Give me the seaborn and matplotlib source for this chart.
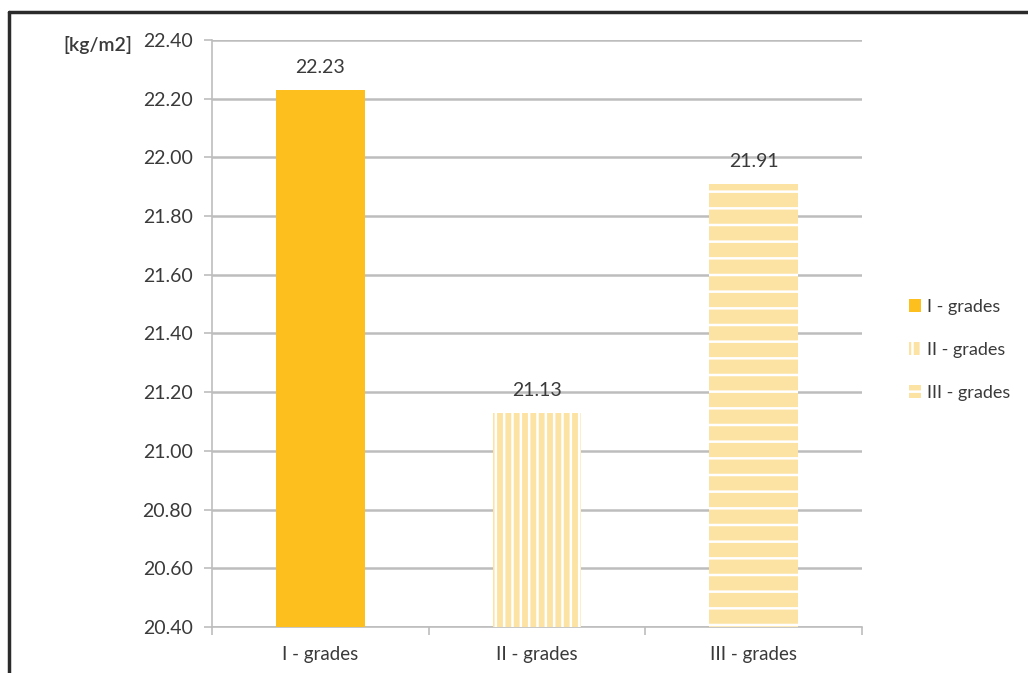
import matplotlib
matplotlib.use("Agg")
import matplotlib.pyplot as plt
from matplotlib.lines import Line2D
import seaborn as sns
import pandas as pd

categories = ["I - grades", "II - grades", "III - grades"]
values = [22.23, 21.13, 21.91]
yticks = [20.40, 20.60, 20.80, 21.00, 21.20, 21.40, 21.60, 21.80, 22.00, 22.20, 22.40]
unit_label = "[kg/m2]"

sns.set_theme(style="white")
plt.rcParams["font.family"] = ["Lato", "DejaVu Sans"]
plt.rcParams["hatch.linewidth"] = 1.8

gold = "#FCBF1E"
pale = "#FDE3A3"
text_col = "#3a3a3a"
grid_col = "#BDBDBD"

df = pd.DataFrame({"grade": categories, "value": values})

fig = plt.figure(figsize=(10.28, 6.73), dpi=100)
ax = fig.add_axes([0.2062, 0.0684, 0.6323, 0.8722])

sns.barplot(data=df, x="grade", y="value", hue="grade",
            palette=[gold, pale, pale], width=0.41, ax=ax,
            legend=False, saturation=1, zorder=3)

hatches = [None, "||", "-"]
for bar, h in zip(ax.patches, hatches):
    bar.set_linewidth(0)
    if h:
        bar.set_hatch(h)
        bar.set_edgecolor("white")

ax.set_ylim(20.4, 22.4)
ax.set_xlim(-0.5, 2.5)
ax.set_yticks(yticks)
ax.set_yticklabels([f"{v:.2f}" for v in yticks], fontsize=14, color=text_col)
ax.set_xticks(range(len(categories)))
ax.set_xticklabels(categories, fontsize=13.5, color=text_col)
ax.set_xticks([-0.5, 0.5, 1.5, 2.5], minor=True)
ax.tick_params(axis="x", which="major", length=0, pad=14)
ax.tick_params(axis="x", which="minor", length=6, width=1.2, color=grid_col, direction="out", bottom=True)
ax.tick_params(axis="y", length=6, width=1.2, color=grid_col, direction="out", left=True, pad=8)
ax.set_xlabel("")
ax.set_ylabel("")

ax.yaxis.grid(True, color=grid_col, linewidth=1.8, zorder=0)
ax.set_axisbelow(True)
for side in ["top", "right"]:
    ax.spines[side].set_visible(False)
for side in ["left", "bottom"]:
    ax.spines[side].set_color(grid_col)
    ax.spines[side].set_linewidth(1.2)

for bar, v in zip(ax.patches, values):
    ax.annotate(f"{v:.2f}", (bar.get_x() + bar.get_width() / 2, v),
                xytext=(0, 10), textcoords="offset points",
                ha="center", va="bottom", fontsize=14, color=text_col)

fig.text(0.095, 0.933, unit_label, fontsize=14, fontweight="semibold",
         color=text_col, ha="center", va="center")

handles = []
for bar in ax.patches:
    p = plt.Rectangle((0, 0), 1, 1, facecolor=bar.get_facecolor(),
                      hatch=bar.get_hatch(), edgecolor="white", linewidth=0)
    handles.append(p)
fig.legend(handles, categories, loc="center left", bbox_to_anchor=(0.868, 0.48),
           frameon=False, fontsize=13, handlelength=0.7, handleheight=0.7,
           handletextpad=0.3, labelspacing=1.5, labelcolor=text_col)

# outer frame (top and left edges)
fig.add_artist(Line2D([0.009, 1.0], [0.982, 0.982], transform=fig.transFigure,
                      color="#2b2b2b", linewidth=2.5))
fig.add_artist(Line2D([0.009, 0.009], [0.0, 0.982], transform=fig.transFigure,
                      color="#2b2b2b", linewidth=2.5))

fig.savefig("out.png", dpi=100)
